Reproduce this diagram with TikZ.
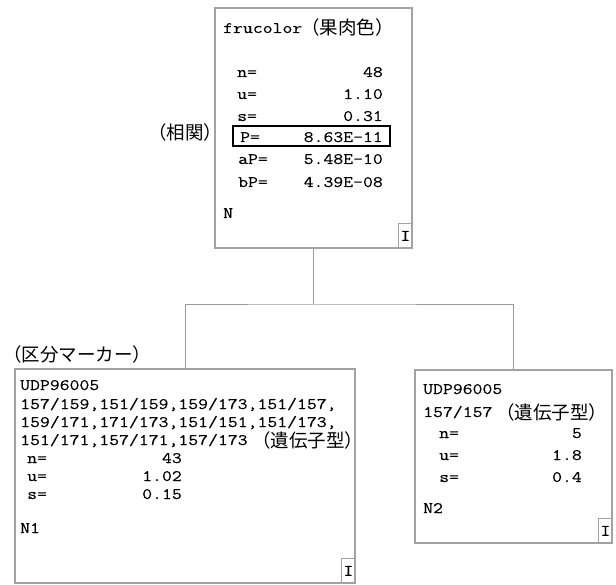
\documentclass[tikz,border=0pt]{standalone}
\usepackage{fontspec}
\setmonofont[FakeStretch=1.2,FakeBold=0.3]{Latin Modern Mono}
\newfontfamily\cjk{Noto Sans CJK JP}
\newcommand\monotxt{\ttfamily\fontsize{16}{18}\selectfont}
\newcommand\jptxt{\cjk\fontsize{18.5}{21}\selectfont}
\definecolor{framegray}{HTML}{A2A2A2}
\definecolor{linkgray}{HTML}{9A9A9A}
\tikzset{
  panel/.style={draw=framegray, line width=2.4pt, inner sep=0pt},
  tag/.style={draw=framegray, line width=1.6pt, minimum width=14pt,
              minimum height=25pt, inner sep=0pt, font=\monotxt},
  txt/.style={anchor=base west, inner sep=0pt, font=\monotxt},
  num/.style={anchor=base east, inner sep=0pt, font=\monotxt},
  jp/.style={anchor=base west, inner sep=0pt, font=\jptxt},
  link/.style={draw=linkgray, line width=1pt},
  hilite/.style={draw=black, line width=1.2pt, inner sep=0pt},
}
\begin{document}
\begin{tikzpicture}[x=1pt,y=-1pt]
\useasboundingbox (0,0) rectangle (616,585);

% --- panels -------------------------------------------------------
\node[panel, minimum width=197pt, minimum height=240pt] (root) at (313.5,128) {};
\node[panel, minimum width=340pt, minimum height=214pt] (left) at (185,476) {};
\node[panel, minimum width=197pt, minimum height=173pt] (right) at (513.5,456.5) {};

\node[tag, anchor=south east] (rootI) at (root.south east) {I};
\node[tag, anchor=south east] (leftI) at (left.south east) {I};
\node[tag, anchor=south east] (rightI) at (right.south east) {I};

% --- tree connectors ----------------------------------------------
\coordinate (split) at (313.5,305);
\draw[link] (root.south) -- (split);
\draw[link] (left.north) |- (split) -| (right.north);

% --- root panel ---------------------------------------------------
\node[txt] (rname) at (223,33) {frucolor};
\node[jp] (rnamejp) at (301,35) {（果肉色）};
\node[txt] (rn) at (237,77) {n=};   \node[num] (rnv) at (383,77) {48};
\node[txt] (ru) at (237,99) {u=};   \node[num] (ruv) at (383,99) {1.10};
\node[txt] (rs) at (237,121) {s=};  \node[num] (rsv) at (383,121) {0.31};
\node[txt] (rp) at (240,142) {P=};  \node[num] (rpv) at (383,142) {8.63E-11};
\node[txt] (rap) at (238,164) {aP=}; \node[num] (rapv) at (383,164) {5.48E-10};
\node[txt] (rbp) at (238,187) {bP=}; \node[num] (rbpv) at (383,187) {4.39E-08};
\node[txt] (rN) at (223,218) {N};
\node[hilite, minimum width=157pt, minimum height=20pt] (pbox) at (311.5,136) {};
\node[jp] (corr) at (148,140) {（相関）};

% --- left child ---------------------------------------------------
\node[jp] (marker) at (3,362) {（区分マーカー）};
\node[txt] (l1) at (20,390) {UDP96005};
\node[txt] (l2) at (20,409) {157/159,151/159,159/173,151/157,};
\node[txt] (l3) at (20,427) {159/171,171/173,151/151,151/173,};
\node[txt] (l4) at (20,445) {151/171,157/171,157/173};
\node[jp] (l4jp) at (252,447) {（遺伝子型）};
\node[txt] (ln) at (27,463) {n=};  \node[num] (lnv) at (182,463) {43};
\node[txt] (lu) at (27,481) {u=};  \node[num] (luv) at (182,481) {1.02};
\node[txt] (ls) at (27,499) {s=};  \node[num] (lsv) at (182,499) {0.15};
\node[txt] (lN) at (20,533) {N1};

% --- right child --------------------------------------------------
\node[txt] (r1) at (423,394) {UDP96005};
\node[txt] (r2) at (423,417) {157/157};
\node[jp] (r2jp) at (496,419) {（遺伝子型）};
\node[txt] (qn) at (439,438) {n=};  \node[num] (qnv) at (582,438) {5};
\node[txt] (qu) at (439,460) {u=};  \node[num] (quv) at (582,460) {1.8};
\node[txt] (qs) at (439,482) {s=};  \node[num] (qsv) at (582,482) {0.4};
\node[txt] (qN) at (423,513) {N2};
\end{tikzpicture}
\end{document}
